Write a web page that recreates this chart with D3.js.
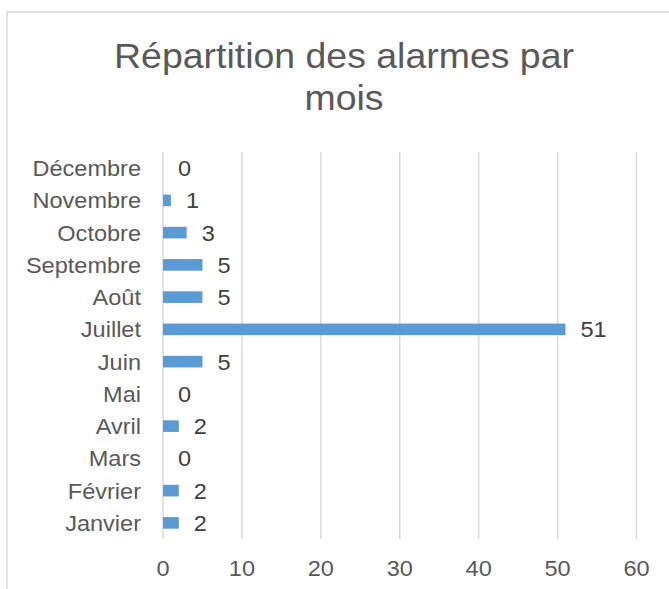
<!DOCTYPE html>
<html>
<head>
<meta charset="utf-8">
<script src="https://cdn.jsdelivr.net/npm/d3@7"></script>
<style>
  html, body { margin: 0; padding: 0; background: #fff; }
  svg { display: block; font-family: "Liberation Sans", Arial, sans-serif; }
</style>
</head>
<body>
<svg id="chart" width="669" height="589"></svg>
<script>
const categories = ["Janvier", "Février", "Mars", "Avril", "Mai", "Juin", "Juillet", "Août", "Septembre", "Octobre", "Novembre", "Décembre"];
const values = [2, 2, 0, 2, 0, 5, 51, 5, 5, 3, 1, 0];
const xTicks = [0, 10, 20, 30, 40, 50, 60];
const titleLines = ["Répartition des alarmes par", "mois"];

const SX = 1.07; // slight horizontal text stretch seen in the reference
const svg = d3.select("#chart");

// chart border (cropped on right/bottom)
svg.append("rect")
  .attr("x", 7).attr("y", 12)
  .attr("width", 700).attr("height", 620)
  .attr("fill", "#fff")
  .attr("stroke", "#d9d9d9").attr("stroke-width", 1.5);

const plot = { left: 163, right: 636.5, top: 152, bottom: 539 };

const x = d3.scaleLinear().domain([0, 60]).range([plot.left, plot.right]);
const y = d3.scaleBand()
  .domain(categories.slice().reverse())
  .range([plot.top, plot.bottom])
  .paddingInner(0.64).paddingOuter(0.32);

function stretchedText(parent, px, py, str, opts) {
  const g = parent.append("g").attr("transform", `translate(${px},${py}) scale(${SX},1)`);
  return g.append("text")
    .attr("x", 0).attr("y", 0)
    .attr("text-anchor", opts.anchor || "start")
    .attr("font-size", opts.size)
    .attr("fill", opts.color)
    .text(str);
}

// title
const titleBase = [68, 110];
titleLines.forEach((t, i) => {
  stretchedText(svg, 344, titleBase[i], t, { anchor: "middle", size: 35, color: "#595959" });
});

// gridlines
svg.append("g").selectAll("line")
  .data(xTicks)
  .join("line")
  .attr("x1", d => x(d)).attr("x2", d => x(d))
  .attr("y1", plot.top).attr("y2", plot.bottom)
  .attr("stroke", "#d9d9d9").attr("stroke-width", 1.5);

// x tick labels
const xAxis = svg.append("g");
xTicks.forEach(d => {
  stretchedText(xAxis, x(d), 576, d3.format("d")(d), { anchor: "middle", size: 22, color: "#595959" });
});

// category labels
const yAxis = svg.append("g");
categories.forEach(c => {
  stretchedText(yAxis, 141, y(c) + y.bandwidth() / 2 + 8, c, { anchor: "end", size: 22, color: "#595959" });
});

// bars
const data = categories.map((c, i) => ({ c, v: values[i] }));
svg.append("g").selectAll("rect")
  .data(data)
  .join("rect")
  .attr("x", x(0))
  .attr("y", d => y(d.c))
  .attr("width", d => x(d.v) - x(0))
  .attr("height", y.bandwidth())
  .attr("fill", "#5b9bd5");

// value labels
const lbl = svg.append("g");
data.forEach(d => {
  stretchedText(lbl, x(d.v) + 15, y(d.c) + y.bandwidth() / 2 + 8, String(d.v), { anchor: "start", size: 22, color: "#404040" });
});
</script>
</body>
</html>
